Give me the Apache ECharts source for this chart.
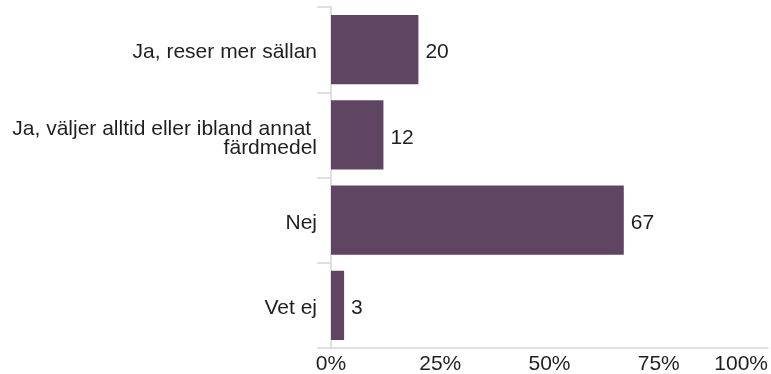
<!DOCTYPE html>
<html>
<head>
<meta charset="utf-8">
<script src="https://cdn.jsdelivr.net/npm/echarts@6/dist/echarts.min.js"></script>
<style>
  html, body { margin: 0; padding: 0; background: #fff; }
  #chart { width: 771px; height: 374px; }
</style>
</head>
<body>
<div id="chart"></div>
<script>
// Survey answers, top to bottom
const categories = [
  'Ja, reser mer sällan',
  'Ja, väljer alltid eller ibland annat \nfärdmedel',
  'Nej',
  'Vet ej'
];
// Share of respondents (percent)
const values = [20, 12, 67, 3];
// Percentage axis ticks
const xTicks = [0, 25, 50, 75, 100];

const font = '"Liberation Sans", Arial, sans-serif';
const textColor = '#1f1f1f';
const axisGrey = '#d6d6d6';

// Category labels: a thin spacer line above nudges the text slightly below the band centre
function categoryLabel(v) {
  const lines = v.split('\n');
  const spacer = lines.length > 1 ? '{s2| }' : '{s1| }';
  return [spacer].concat(lines.map(l => '{t|' + l + '}')).join('\n');
}

const chart = echarts.init(document.getElementById('chart'), null, { renderer: 'canvas' });

chart.setOption({
  animation: false,
  backgroundColor: '#ffffff',
  grid: { left: 331, right: 3, top: 7, bottom: 26, containLabel: false, outerBoundsMode: 'none' },
  xAxis: {
    type: 'value',
    min: xTicks[0],
    max: xTicks[xTicks.length - 1],
    interval: xTicks[1] - xTicks[0],
    axisLine: { show: true, lineStyle: { color: axisGrey, width: 1.5 } },
    axisTick: { show: false },
    splitLine: { show: false },
    axisLabel: {
      color: textColor,
      fontFamily: font,
      fontSize: 21,
      margin: 6,
      alignMaxLabel: 'right',
      formatter: v => v + '%'
    }
  },
  yAxis: {
    type: 'category',
    inverse: true,
    data: categories,
    axisLine: { show: true, lineStyle: { color: axisGrey, width: 1.5 } },
    axisTick: { show: true, length: 14, lineStyle: { color: axisGrey, width: 1.5 } },
    splitLine: { show: false },
    axisLabel: {
      margin: 14,
      align: 'right',
      formatter: categoryLabel,
      rich: {
        t: { color: textColor, fontFamily: font, fontSize: 21, lineHeight: 19, align: 'right' },
        s1: { fontSize: 1, lineHeight: 6 },
        s2: { fontSize: 1, lineHeight: 8 }
      }
    }
  },
  series: [{
    type: 'bar',
    data: values,
    barCategoryGap: '19%',
    itemStyle: { color: '#604563' },
    label: {
      show: true,
      position: 'right',
      distance: 7,
      offset: [0, 3],
      color: textColor,
      fontFamily: font,
      fontSize: 21
    }
  }]
});
</script>
</body>
</html>
